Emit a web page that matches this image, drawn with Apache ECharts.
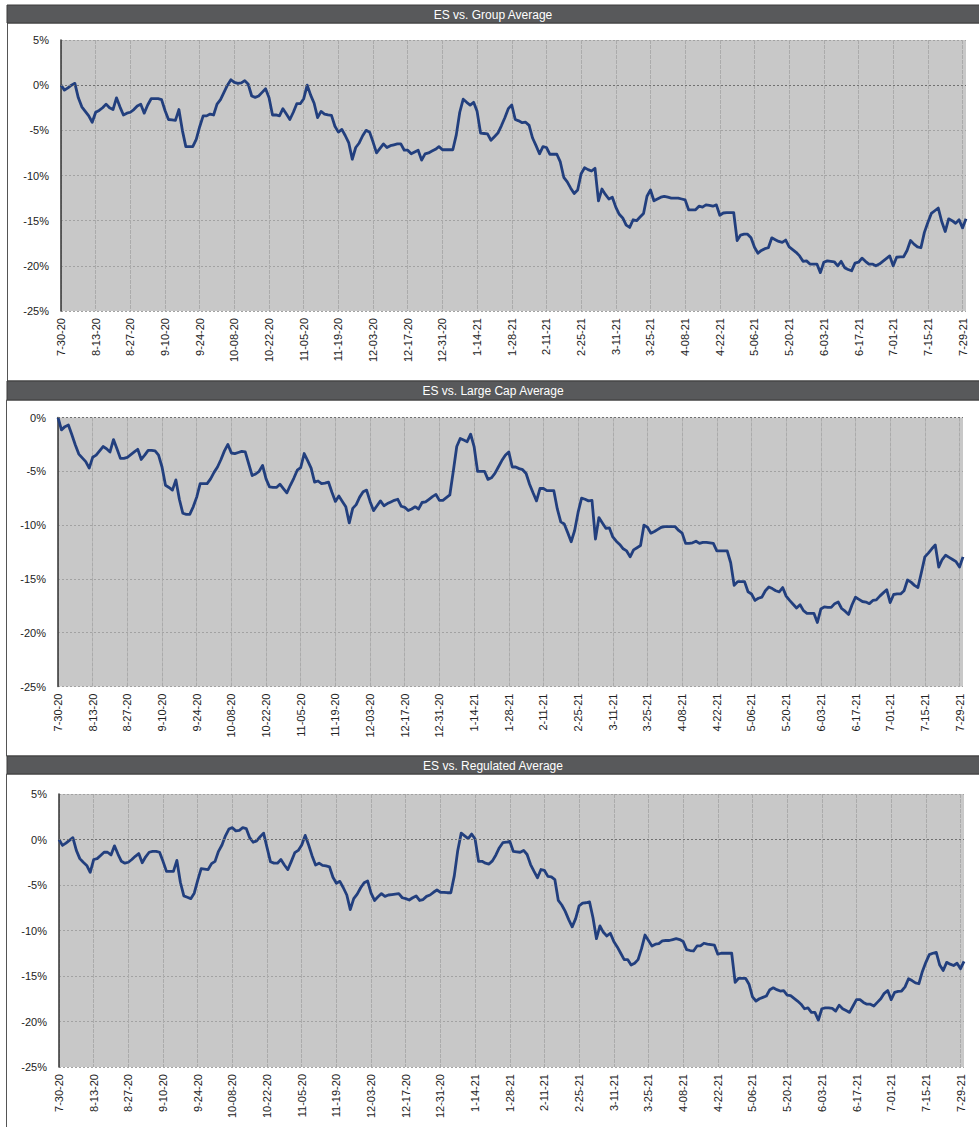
<!DOCTYPE html>
<html>
<head>
<meta charset="utf-8">
<script src="https://cdn.jsdelivr.net/npm/echarts@6/dist/echarts.min.js"></script>
<style>
html,body{margin:0;padding:0;background:#ffffff;}
#chart{width:979px;height:1127px;}
</style>
</head>
<body>
<div id="chart"></div>
<script>
// ---------- data ----------
const startDate = [2020, 7, 30];   // first weekday of the series (7-30-20)
const pointCount = 262;            // weekdays 7-30-20 .. 7-30-21

const tickLabels = ['7-30-20','8-13-20','8-27-20','9-10-20','9-24-20','10-08-20','10-22-20','11-05-20',
  '11-19-20','12-03-20','12-17-20','12-31-20','1-14-21','1-28-21','2-11-21','2-25-21','3-11-21',
  '3-25-21','4-08-21','4-22-21','5-06-21','5-20-21','6-03-21','6-17-21','7-01-21','7-15-21','7-29-21'];

const titles = ['ES vs. Group Average', 'ES vs. Large Cap Average', 'ES vs. Regulated Average'];

const groupAvg = [
  0.0,-0.55,-0.3,0.0,0.2,-1.4,-2.4,-2.9,-3.4,-4.1,
  -3.0,-2.8,-2.5,-2.1,-2.5,-2.7,-1.4,-2.4,-3.3,-3.1,
  -3.0,-2.7,-2.3,-2.1,-3.1,-2.2,-1.5,-1.5,-1.5,-1.6,
  -2.8,-3.8,-3.85,-3.9,-2.7,-5.0,-6.8,-6.8,-6.8,-6.0,
  -4.6,-3.4,-3.4,-3.2,-3.3,-2.1,-1.6,-0.8,0.0,0.6,
  0.3,0.2,0.25,0.5,0.1,-1.2,-1.35,-1.2,-0.8,-0.4,
  -1.4,-3.3,-3.3,-3.4,-2.6,-3.2,-3.8,-3.0,-2.05,-2.05,
  -1.5,0.0,-1.1,-2.0,-3.6,-2.9,-3.2,-3.3,-3.35,-4.55,
  -5.2,-4.9,-5.6,-6.4,-8.2,-6.9,-6.4,-5.6,-5.0,-5.2,
  -6.3,-7.5,-7.0,-6.5,-6.9,-6.7,-6.6,-6.5,-6.5,-7.2,
  -7.2,-7.6,-7.4,-7.2,-8.3,-7.6,-7.5,-7.3,-7.1,-6.8,
  -7.15,-7.15,-7.15,-7.15,-5.5,-3.0,-1.55,-1.9,-2.2,-1.9,
  -2.9,-5.3,-5.35,-5.4,-6.1,-5.7,-5.3,-4.5,-3.6,-2.6,
  -2.2,-3.8,-3.95,-4.15,-4.1,-4.45,-5.85,-6.7,-7.6,-6.8,
  -6.9,-7.65,-7.65,-7.65,-8.5,-10.2,-10.7,-11.4,-12.0,-11.6,
  -9.8,-9.15,-9.35,-9.5,-9.2,-12.8,-11.5,-12.1,-12.6,-12.4,
  -13.5,-14.3,-14.7,-15.5,-15.75,-14.9,-15.0,-14.6,-14.2,-12.3,
  -11.6,-12.8,-12.6,-12.4,-12.3,-12.4,-12.5,-12.5,-12.5,-12.6,
  -12.7,-13.8,-13.8,-13.8,-13.4,-13.5,-13.25,-13.3,-13.4,-13.25,
  -14.4,-14.15,-14.1,-14.1,-14.1,-17.2,-16.6,-16.5,-16.5,-16.9,
  -17.95,-18.6,-18.3,-18.1,-18.0,-16.9,-17.1,-17.3,-17.4,-17.15,
  -17.9,-18.2,-18.5,-18.9,-19.5,-19.45,-19.8,-19.8,-19.8,-20.75,
  -19.6,-19.45,-19.5,-19.55,-20.0,-19.5,-20.2,-20.4,-20.55,-19.7,
  -19.6,-19.15,-19.5,-19.8,-19.8,-20.0,-19.8,-19.5,-19.2,-18.9,
  -20.0,-19.05,-19.0,-19.0,-18.3,-17.2,-17.6,-17.9,-18.0,-16.3,
  -15.2,-14.2,-13.9,-13.6,-15.1,-16.2,-14.8,-15.0,-15.3,-14.9,
  -15.8,-14.8
];

const largeCapAvg = [
  0.0,-1.15,-0.85,-0.7,-1.6,-2.55,-3.4,-3.75,-4.1,-4.7,
  -3.7,-3.5,-3.1,-2.7,-2.9,-3.2,-2.05,-2.9,-3.8,-3.8,
  -3.7,-3.45,-3.2,-2.95,-3.9,-3.5,-3.05,-3.05,-3.1,-3.5,
  -4.6,-6.3,-6.5,-6.75,-5.8,-7.6,-8.9,-9.0,-9.0,-8.3,
  -7.4,-6.15,-6.15,-6.15,-5.7,-5.1,-4.6,-3.9,-3.1,-2.5,
  -3.3,-3.35,-3.25,-3.15,-3.2,-4.3,-5.4,-5.25,-5.0,-4.45,
  -5.7,-6.45,-6.5,-6.5,-6.2,-6.6,-7.0,-6.3,-5.65,-4.9,
  -4.65,-3.35,-4.0,-4.7,-6.0,-5.9,-6.15,-6.1,-6.0,-6.95,
  -7.8,-7.3,-7.8,-8.3,-9.8,-8.45,-8.1,-7.4,-6.9,-6.75,
  -7.8,-8.65,-8.2,-7.75,-8.2,-8.0,-7.85,-7.7,-7.6,-8.25,
  -8.35,-8.65,-8.5,-8.3,-8.5,-7.9,-7.85,-7.6,-7.35,-7.15,
  -7.7,-7.7,-7.45,-7.2,-5.0,-2.7,-1.95,-2.1,-2.25,-1.55,
  -2.7,-5.0,-5.0,-5.0,-5.75,-5.6,-5.2,-4.6,-4.0,-3.5,
  -3.2,-4.6,-4.6,-4.75,-4.85,-5.2,-6.2,-7.0,-7.75,-6.6,
  -6.6,-6.8,-6.8,-6.8,-8.5,-9.7,-9.9,-10.7,-11.55,-10.5,
  -8.8,-7.5,-7.6,-7.75,-7.7,-11.3,-9.3,-9.8,-10.3,-10.25,
  -11.1,-11.5,-11.8,-12.2,-12.4,-12.95,-12.3,-12.1,-11.9,-10.0,
  -10.2,-10.75,-10.6,-10.4,-10.2,-10.15,-10.15,-10.15,-10.15,-10.5,
  -10.75,-11.7,-11.7,-11.65,-11.5,-11.7,-11.6,-11.6,-11.65,-11.7,
  -12.4,-12.4,-12.4,-12.4,-13.5,-15.6,-15.25,-15.25,-15.25,-16.2,
  -16.4,-17.0,-16.8,-16.7,-16.1,-15.75,-15.9,-16.1,-16.2,-15.8,
  -16.6,-17.0,-17.35,-17.7,-17.4,-17.95,-18.2,-18.2,-18.2,-19.05,
  -17.8,-17.6,-17.65,-17.65,-17.3,-17.15,-17.75,-18.0,-18.3,-17.4,
  -16.7,-16.9,-17.1,-17.15,-17.3,-17.0,-16.95,-16.6,-16.3,-16.0,
  -17.2,-16.45,-16.4,-16.4,-16.1,-15.1,-15.3,-15.6,-15.8,-14.4,
  -12.95,-12.6,-12.2,-11.85,-13.9,-13.2,-12.8,-13.0,-13.2,-13.4,
  -13.9,-12.95
];

const regulatedAvg = [
  0.0,-0.65,-0.4,-0.1,0.2,-1.2,-2.1,-2.5,-2.85,-3.6,
  -2.2,-2.1,-1.75,-1.4,-1.4,-1.7,-0.7,-1.6,-2.4,-2.6,
  -2.5,-2.2,-1.85,-1.55,-2.55,-1.9,-1.4,-1.3,-1.3,-1.4,
  -2.4,-3.5,-3.5,-3.5,-2.3,-4.7,-6.2,-6.35,-6.5,-5.9,
  -4.5,-3.2,-3.25,-3.3,-2.65,-2.4,-1.3,-0.6,0.4,1.15,
  1.3,0.95,1.0,1.3,1.2,0.2,-0.3,-0.15,0.3,0.7,
  -0.9,-2.45,-2.6,-2.6,-2.2,-2.8,-3.3,-2.4,-1.45,-1.2,
  -0.6,0.45,-0.6,-1.8,-2.8,-2.6,-2.85,-2.9,-3.0,-4.15,
  -4.8,-4.6,-5.3,-6.1,-7.7,-6.5,-6.0,-5.3,-4.75,-4.55,
  -5.9,-6.7,-6.3,-5.95,-6.25,-6.1,-6.05,-6.0,-5.95,-6.4,
  -6.5,-6.65,-6.4,-6.2,-6.7,-6.6,-6.25,-6.1,-5.8,-5.55,
  -5.8,-5.8,-5.85,-5.85,-4.0,-1.2,0.7,0.4,0.1,0.6,
  0.05,-2.4,-2.4,-2.6,-2.7,-2.35,-1.7,-0.9,-0.35,-0.3,
  -0.2,-1.3,-1.35,-1.4,-1.2,-1.65,-2.75,-3.5,-4.2,-3.3,
  -3.4,-4.05,-4.1,-4.4,-6.7,-7.2,-7.9,-8.8,-9.6,-8.7,
  -7.3,-7.0,-6.95,-6.85,-8.6,-10.9,-9.5,-10.2,-10.6,-10.3,
  -11.2,-11.8,-12.5,-13.2,-13.2,-13.8,-13.6,-13.2,-12.0,-10.5,
  -11.1,-11.7,-11.5,-11.45,-11.15,-11.1,-11.1,-11.0,-10.9,-11.0,
  -11.2,-12.1,-12.2,-12.25,-11.7,-11.7,-11.4,-11.5,-11.55,-11.6,
  -12.6,-12.5,-12.5,-12.5,-12.5,-15.7,-15.25,-15.25,-15.25,-15.9,
  -17.3,-17.75,-17.5,-17.35,-17.2,-16.5,-16.3,-16.5,-16.65,-16.6,
  -17.1,-17.15,-17.45,-17.75,-18.1,-18.6,-18.5,-19.0,-19.0,-19.85,
  -18.6,-18.5,-18.5,-18.55,-18.85,-18.2,-18.6,-18.8,-19.0,-18.3,
  -17.6,-17.6,-17.9,-18.1,-18.1,-18.3,-17.9,-17.5,-16.9,-16.6,
  -17.6,-16.8,-16.7,-16.65,-16.2,-15.3,-15.5,-15.75,-15.85,-14.5,
  -13.5,-12.65,-12.5,-12.4,-13.8,-14.4,-13.5,-13.7,-13.85,-13.6,
  -14.2,-13.4
];

const yMax = [5, 0, 5];
const yMin = [-25, -25, -25];

// ---------- categories: consecutive weekdays ----------
function weekdayLabels(start, n) {
  const out = [];
  const d = new Date(start[0], start[1] - 1, start[2]);
  while (out.length < n) {
    const wd = d.getDay();
    if (wd !== 0 && wd !== 6) {
      out.push((d.getMonth() + 1) + '-' + String(d.getDate()).padStart(2, '0') + '-' + String(d.getFullYear() % 100).padStart(2, '0'));
    }
    d.setDate(d.getDate() + 1);
  }
  return out;
}
const categories = weekdayLabels(startDate, pointCount);

// ---------- layout ----------
const seriesData = [groupAvg, largeCapAvg, regulatedAvg];
const plotBoxes = [
  { left: 61, top: 40, width: 905, height: 271 },
  { left: 58, top: 417.5, width: 905, height: 269 },
  { left: 59, top: 794, width: 905, height: 273 }
];
const bars = [
  { y: 5, h: 18 },
  { y: 381, h: 19 },
  { y: 756, h: 18 }
];
const frames = [
  { x: 7.5, y: 23, h: 358 },
  { x: 6.5, y: 400, h: 356 },
  { x: 6.5, y: 774, h: 360 }
];

const FONT = '"Liberation Sans", Arial, sans-serif';
const showTick = (idx, val) => tickLabels.indexOf(val) >= 0;

const grid = [], xAxis = [], yAxis = [], series = [], graphic = [];
for (let i = 0; i < 3; i++) {
  const b = plotBoxes[i];
  grid.push({ left: b.left, top: b.top, width: b.width, height: b.height,
    show: true, backgroundColor: '#c8c8c8', borderWidth: 0 });
  xAxis.push({
    type: 'category', gridIndex: i, data: categories, boundaryGap: false,
    axisLine: { show: false }, axisTick: { show: false },
    axisLabel: { interval: showTick, rotate: 90, fontSize: 11, color: '#222', fontFamily: FONT, margin: 7 },
    splitLine: { show: true, interval: showTick, lineStyle: { color: '#ababab', width: 1, type: [4, 1] } }
  });
  yAxis.push({
    type: 'value', gridIndex: i, min: yMin[i], max: yMax[i], interval: 5,
    axisLine: { show: true, onZero: false, lineStyle: { color: '#333', width: 1.5 } },
    axisTick: { show: false },
    axisLabel: { formatter: v => v + '%', fontSize: 11, color: '#222', fontFamily: FONT, margin: 12 },
    splitLine: { show: true, lineStyle: { color: '#a2a2a2', width: 1, type: [2, 2] } }
  });
  series.push({
    type: 'line', xAxisIndex: i, yAxisIndex: i, data: seriesData[i],
    showSymbol: false, symbol: 'none', smooth: false,
    lineStyle: { color: '#223f7e', width: 2.8, join: 'round' },
    markLine: {
      silent: true, symbol: 'none', label: { show: false },
      lineStyle: { color: '#707070', width: 1.2, type: [2, 2] },
      data: [{ yAxis: 0 }]
    },
    z: 3
  });
  // panel frame (outline only)
  graphic.push({ type: 'rect', shape: { x: frames[i].x, y: frames[i].y, width: 990, height: frames[i].h },
    style: { fill: 'none', stroke: '#555', lineWidth: 1 }, silent: true, z: 1 });
  // title bar
  graphic.push({ type: 'rect', shape: { x: 7, y: bars[i].y, width: 990, height: bars[i].h },
    style: { fill: '#58595b', stroke: '#3c3c3c', lineWidth: 1 }, silent: true, z: 5 });
  graphic.push({ type: 'text', x: 493, y: bars[i].y + bars[i].h / 2 + 0.5,
    style: { text: titles[i], fill: '#ffffff', font: '12px ' + FONT, textAlign: 'center', textVerticalAlign: 'middle' },
    silent: true, z: 6 });
}

const chart = echarts.init(document.getElementById('chart'), null, { renderer: 'svg', width: 979, height: 1127 });
chart.setOption({
  animation: false,
  backgroundColor: '#ffffff',
  grid, xAxis, yAxis, series, graphic
});
</script>
</body>
</html>
